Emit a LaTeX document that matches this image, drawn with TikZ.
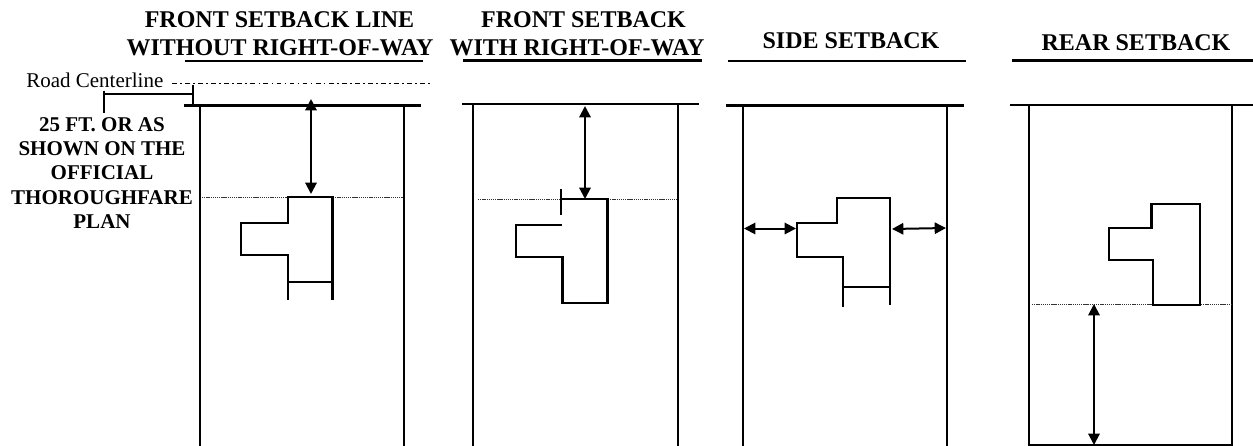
\documentclass[tikz,border=0pt]{standalone}
\usepackage{fontspec}
\setmainfont{Liberation Serif}
\usetikzlibrary{arrows.meta}
\tikzset{
  x=0.75pt,y=-0.75pt,
  head/.style={font=\fontsize{18}{18}\selectfont\bfseries,anchor=base,inner sep=0pt},
  note/.style={font=\fontsize{15.75}{15.75}\selectfont\bfseries,anchor=base,inner sep=0pt},
  road/.style={font=\fontsize{15.75}{15.75}\selectfont,anchor=base west,inner sep=0pt},
  heavy/.style={line width=2pt},
  post/.style={line width=2pt},
  house/.style={line width=2pt,line join=miter},
  setback/.style={line width=0.7pt,black!80,dash pattern=on 1pt off 0.6pt},
  dim/.style={line width=1.5pt,{Triangle[width=8.5pt,length=8.5pt]}-{Triangle[width=8.5pt,length=8.5pt]}},
  center line/.style={line width=1pt,black,dash pattern=on 3.6pt off 2.5pt on 1.2pt off 2.5pt},
}
\begin{document}
\begin{tikzpicture}
\useasboundingbox (0,0) rectangle (1253,446);
\fill[white] (0,0) rectangle (1253,446);
% headings
\node[head] (t1a) at (279.5,27) {FRONT SETBACK LINE};
\node[head] (t1b) at (280,55) {WITHOUT RIGHT-OF-WAY};
\node[head] (t2a) at (583.5,27) {FRONT SETBACK};
\node[head] (t2b) at (577,55) {WITH RIGHT-OF-WAY};
\node[head] (t3) at (851,48) {SIDE SETBACK};
\node[head] (t4) at (1136,50) {REAR SETBACK};
% heading rules
\draw[heavy] (185,61) -- (423,61);
\draw[heavy] (463,60.5) -- (702,60.5);
\draw[heavy] (728,61) -- (966,61);
\draw[heavy] (1012,60.5) -- (1253,60.5);
% road centerline and note
\node[road] (rc) at (26,87) {Road Centerline};
\coordinate (cl1) at (172,83.5);
\coordinate (cl2) at (433,83.5);
\draw[center line] (cl1) -- (cl2);
\draw[line width=1.2pt] (193,85) -- (193,105);
\draw[line width=1.2pt] (104,94) -- (193,94);
\draw[line width=1.2pt] (104,90.5) -- (104,112.5);
\node[note] (n1) at (102,131) {25 FT. OR AS};
\node[note] (n2) at (102,155) {SHOWN ON THE};
\node[note] (n3) at (102,179.5) {OFFICIAL};
\node[note] (n4) at (102,204) {THOROUGHFARE};
\node[note] (n5) at (102,228) {PLAN};
% panel 1
\draw[heavy] (184,105.5) -- (421,105.5);
\draw[post] (200,105.5) -- (200,446);
\draw[post] (404,105.5) -- (404,446);
\draw[setback] (202,197) -- (288,197);
\draw[setback] (333,197) -- (403,197);
\draw[house] (332.5,300) -- (332.5,197) -- (288,197) -- (288,223) -- (241,223) -- (241,255) -- (288,255) -- (288,300);
\draw[house] (288,282) -- (332.5,282);
\coordinate (a1) at (311,99);
\coordinate (b1) at (311,194);
\draw[dim] (a1) -- (b1);
% panel 2
\draw[heavy] (462,104) -- (699,104);
\draw[post] (473,104) -- (473,446);
\draw[post] (678,104) -- (678,446);
\draw[setback] (478,199) -- (561,199);
\draw[setback] (608,199) -- (677,199);
\draw[house] (561,189) -- (561,215);
\draw[house] (561,199) -- (607.5,199) -- (607.5,303) -- (562.5,303) -- (562.5,257) -- (516,257) -- (516,225) -- (562,225);
\coordinate (a2) at (585,106);
\coordinate (b2) at (585,199);
\draw[dim] (a2) -- (b2);
% panel 3
\draw[heavy] (726,105.5) -- (964,105.5);
\draw[post] (743,105.5) -- (743,446);
\draw[post] (947,105.5) -- (947,446);
\draw[house] (890,305) -- (890,198) -- (837,198) -- (837,223) -- (797,223) -- (797,257) -- (843,257) -- (843,307);
\draw[house] (843,287) -- (890,287);
\coordinate (a3) at (744,228.5);
\coordinate (b3) at (796,228.5);
\draw[dim] (a3) -- (b3);
\coordinate (a4) at (892,229);
\coordinate (b4) at (946,228);
\draw[dim] (a4) -- (b4);
% panel 4
\draw[heavy] (1010,105) -- (1253,105);
\draw[post] (1029,105) -- (1029,445.2) -- (1232,445.2) -- (1232,105);
\draw[setback] (1032,304.7) -- (1153,304.7);
\draw[setback] (1201,304.7) -- (1231,304.7);
\draw[house] (1151.5,228) -- (1151.5,204) -- (1200,204) -- (1200,305) -- (1153,305) -- (1153,260) -- (1109,260) -- (1109,228) -- cycle;
\coordinate (a5) at (1094,304);
\coordinate (b5) at (1094,445);
\draw[dim] (a5) -- (b5);
\end{tikzpicture}
\end{document}
